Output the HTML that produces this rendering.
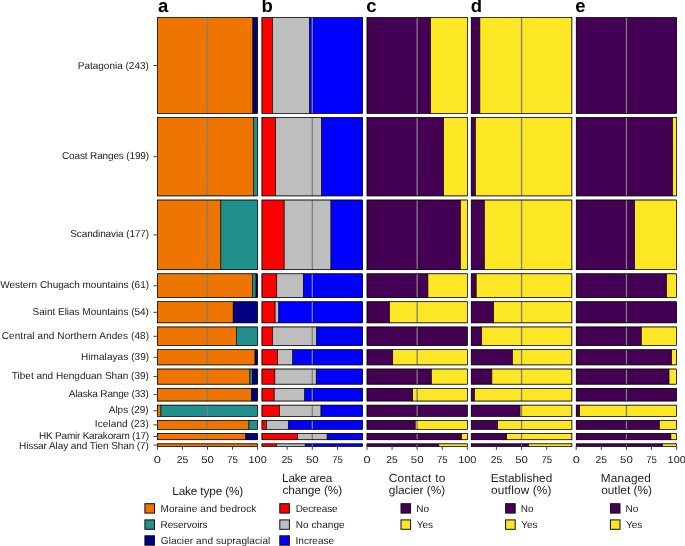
<!DOCTYPE html>
<html><head><meta charset="utf-8"><style>
html,body{margin:0;padding:0;background:#fff;width:685px;height:546px;overflow:hidden}
svg{display:block;will-change:transform}
text{font-family:"Liberation Sans",sans-serif;fill:#1c1c1c;text-rendering:geometricPrecision}
.lab{font-size:10px}
.tick{font-size:10px}
.leg{font-size:10px}
.ttl{font-size:11.8px}
.let{font-size:18.5px;font-weight:bold;fill:#000}
</style></head><body>
<svg width="685" height="546" viewBox="0 0 685 546">
<rect x="157.4" y="17.55" width="95.49" height="95.86" fill="#EE7600"/>
<rect x="252.89" y="17.55" width="4.71" height="95.86" fill="#000080"/>
<line x1="207.5" y1="17.55" x2="207.5" y2="113.41" stroke="#7f7f7f" stroke-width="1.3"/>
<rect x="157.4" y="17.55" width="95.49" height="95.86" fill="none" stroke="#000" stroke-width="0.5"/>
<rect x="252.89" y="17.55" width="4.71" height="95.86" fill="none" stroke="#000" stroke-width="0.5"/>
<rect x="157.4" y="17.55" width="100.2" height="95.86" fill="none" stroke="#000" stroke-width="0.55"/>
<rect x="261.95" y="17.55" width="10.57" height="95.86" fill="#FF0000"/>
<rect x="272.52" y="17.55" width="36.86" height="95.86" fill="#BEBEBE"/>
<rect x="309.38" y="17.55" width="53.27" height="95.86" fill="#0000FF"/>
<line x1="312.3" y1="17.55" x2="312.3" y2="113.41" stroke="#7f7f7f" stroke-width="1.3"/>
<rect x="261.95" y="17.55" width="10.57" height="95.86" fill="none" stroke="#000" stroke-width="0.5"/>
<rect x="272.52" y="17.55" width="36.86" height="95.86" fill="none" stroke="#000" stroke-width="0.5"/>
<rect x="309.38" y="17.55" width="53.27" height="95.86" fill="none" stroke="#000" stroke-width="0.5"/>
<rect x="261.95" y="17.55" width="100.7" height="95.86" fill="none" stroke="#000" stroke-width="0.55"/>
<rect x="367" y="17.55" width="63.59" height="95.86" fill="#440154"/>
<rect x="430.59" y="17.55" width="36.71" height="95.86" fill="#FDE725"/>
<line x1="417.15" y1="17.55" x2="417.15" y2="113.41" stroke="#7f7f7f" stroke-width="1.3"/>
<rect x="367" y="17.55" width="63.59" height="95.86" fill="none" stroke="#000" stroke-width="0.5"/>
<rect x="430.59" y="17.55" width="36.71" height="95.86" fill="none" stroke="#000" stroke-width="0.5"/>
<rect x="367" y="17.55" width="100.3" height="95.86" fill="none" stroke="#000" stroke-width="0.55"/>
<rect x="471.2" y="17.55" width="8.66" height="95.86" fill="#440154"/>
<rect x="479.86" y="17.55" width="92.04" height="95.86" fill="#FDE725"/>
<line x1="521.55" y1="17.55" x2="521.55" y2="113.41" stroke="#7f7f7f" stroke-width="1.3"/>
<rect x="471.2" y="17.55" width="8.66" height="95.86" fill="none" stroke="#000" stroke-width="0.5"/>
<rect x="479.86" y="17.55" width="92.04" height="95.86" fill="none" stroke="#000" stroke-width="0.5"/>
<rect x="471.2" y="17.55" width="100.7" height="95.86" fill="none" stroke="#000" stroke-width="0.55"/>
<rect x="576.2" y="17.55" width="100.5" height="95.86" fill="#440154"/>
<line x1="626.45" y1="17.55" x2="626.45" y2="113.41" stroke="#7f7f7f" stroke-width="1.3"/>
<rect x="576.2" y="17.55" width="100.5" height="95.86" fill="none" stroke="#000" stroke-width="0.5"/>
<rect x="576.2" y="17.55" width="100.5" height="95.86" fill="none" stroke="#000" stroke-width="0.55"/>
<line x1="153.4" y1="65.48" x2="157.4" y2="65.48" stroke="#444" stroke-width="1"/>
<text x="77.76" y="68.83" textLength="71.07" lengthAdjust="spacing" class="lab">Patagonia (243)</text>
<rect x="157.4" y="117.48" width="96.19" height="78.45" fill="#EE7600"/>
<rect x="253.59" y="117.48" width="4.01" height="78.45" fill="#21908C"/>
<line x1="207.5" y1="117.48" x2="207.5" y2="195.93" stroke="#7f7f7f" stroke-width="1.3"/>
<rect x="157.4" y="117.48" width="96.19" height="78.45" fill="none" stroke="#000" stroke-width="0.5"/>
<rect x="253.59" y="117.48" width="4.01" height="78.45" fill="none" stroke="#000" stroke-width="0.5"/>
<rect x="157.4" y="117.48" width="100.2" height="78.45" fill="none" stroke="#000" stroke-width="0.55"/>
<rect x="261.95" y="117.48" width="13.7" height="78.45" fill="#FF0000"/>
<rect x="275.65" y="117.48" width="45.92" height="78.45" fill="#BEBEBE"/>
<rect x="321.56" y="117.48" width="41.09" height="78.45" fill="#0000FF"/>
<line x1="312.3" y1="117.48" x2="312.3" y2="195.93" stroke="#7f7f7f" stroke-width="1.3"/>
<rect x="261.95" y="117.48" width="13.7" height="78.45" fill="none" stroke="#000" stroke-width="0.5"/>
<rect x="275.65" y="117.48" width="45.92" height="78.45" fill="none" stroke="#000" stroke-width="0.5"/>
<rect x="321.56" y="117.48" width="41.09" height="78.45" fill="none" stroke="#000" stroke-width="0.5"/>
<rect x="261.95" y="117.48" width="100.7" height="78.45" fill="none" stroke="#000" stroke-width="0.55"/>
<rect x="367" y="117.48" width="76.63" height="78.45" fill="#440154"/>
<rect x="443.63" y="117.48" width="23.67" height="78.45" fill="#FDE725"/>
<line x1="417.15" y1="117.48" x2="417.15" y2="195.93" stroke="#7f7f7f" stroke-width="1.3"/>
<rect x="367" y="117.48" width="76.63" height="78.45" fill="none" stroke="#000" stroke-width="0.5"/>
<rect x="443.63" y="117.48" width="23.67" height="78.45" fill="none" stroke="#000" stroke-width="0.5"/>
<rect x="367" y="117.48" width="100.3" height="78.45" fill="none" stroke="#000" stroke-width="0.55"/>
<rect x="471.2" y="117.48" width="4.23" height="78.45" fill="#440154"/>
<rect x="475.43" y="117.48" width="96.47" height="78.45" fill="#FDE725"/>
<line x1="521.55" y1="117.48" x2="521.55" y2="195.93" stroke="#7f7f7f" stroke-width="1.3"/>
<rect x="471.2" y="117.48" width="4.23" height="78.45" fill="none" stroke="#000" stroke-width="0.5"/>
<rect x="475.43" y="117.48" width="96.47" height="78.45" fill="none" stroke="#000" stroke-width="0.5"/>
<rect x="471.2" y="117.48" width="100.7" height="78.45" fill="none" stroke="#000" stroke-width="0.55"/>
<rect x="576.2" y="117.48" width="96.48" height="78.45" fill="#440154"/>
<rect x="672.68" y="117.48" width="4.02" height="78.45" fill="#FDE725"/>
<line x1="626.45" y1="117.48" x2="626.45" y2="195.93" stroke="#7f7f7f" stroke-width="1.3"/>
<rect x="576.2" y="117.48" width="96.48" height="78.45" fill="none" stroke="#000" stroke-width="0.5"/>
<rect x="672.68" y="117.48" width="4.02" height="78.45" fill="none" stroke="#000" stroke-width="0.5"/>
<rect x="576.2" y="117.48" width="100.5" height="78.45" fill="none" stroke="#000" stroke-width="0.55"/>
<line x1="153.4" y1="156.7" x2="157.4" y2="156.7" stroke="#444" stroke-width="1"/>
<text x="62.01" y="159.25" textLength="87.1" lengthAdjust="spacing" class="lab">Coast Ranges (199)</text>
<rect x="157.4" y="200" width="63.43" height="69.75" fill="#EE7600"/>
<rect x="220.83" y="200" width="36.77" height="69.75" fill="#21908C"/>
<line x1="207.5" y1="200" x2="207.5" y2="269.75" stroke="#7f7f7f" stroke-width="1.3"/>
<rect x="157.4" y="200" width="63.43" height="69.75" fill="none" stroke="#000" stroke-width="0.5"/>
<rect x="220.83" y="200" width="36.77" height="69.75" fill="none" stroke="#000" stroke-width="0.5"/>
<rect x="157.4" y="200" width="100.2" height="69.75" fill="none" stroke="#000" stroke-width="0.55"/>
<rect x="261.95" y="200" width="22.15" height="69.75" fill="#FF0000"/>
<rect x="284.1" y="200" width="46.83" height="69.75" fill="#BEBEBE"/>
<rect x="330.93" y="200" width="31.72" height="69.75" fill="#0000FF"/>
<line x1="312.3" y1="200" x2="312.3" y2="269.75" stroke="#7f7f7f" stroke-width="1.3"/>
<rect x="261.95" y="200" width="22.15" height="69.75" fill="none" stroke="#000" stroke-width="0.5"/>
<rect x="284.1" y="200" width="46.83" height="69.75" fill="none" stroke="#000" stroke-width="0.5"/>
<rect x="330.93" y="200" width="31.72" height="69.75" fill="none" stroke="#000" stroke-width="0.5"/>
<rect x="261.95" y="200" width="100.7" height="69.75" fill="none" stroke="#000" stroke-width="0.55"/>
<rect x="367" y="200" width="93.48" height="69.75" fill="#440154"/>
<rect x="460.48" y="200" width="6.82" height="69.75" fill="#FDE725"/>
<line x1="417.15" y1="200" x2="417.15" y2="269.75" stroke="#7f7f7f" stroke-width="1.3"/>
<rect x="367" y="200" width="93.48" height="69.75" fill="none" stroke="#000" stroke-width="0.5"/>
<rect x="460.48" y="200" width="6.82" height="69.75" fill="none" stroke="#000" stroke-width="0.5"/>
<rect x="367" y="200" width="100.3" height="69.75" fill="none" stroke="#000" stroke-width="0.55"/>
<rect x="471.2" y="200" width="13.19" height="69.75" fill="#440154"/>
<rect x="484.39" y="200" width="87.51" height="69.75" fill="#FDE725"/>
<line x1="521.55" y1="200" x2="521.55" y2="269.75" stroke="#7f7f7f" stroke-width="1.3"/>
<rect x="471.2" y="200" width="13.19" height="69.75" fill="none" stroke="#000" stroke-width="0.5"/>
<rect x="484.39" y="200" width="87.51" height="69.75" fill="none" stroke="#000" stroke-width="0.5"/>
<rect x="471.2" y="200" width="100.7" height="69.75" fill="none" stroke="#000" stroke-width="0.55"/>
<rect x="576.2" y="200" width="58.54" height="69.75" fill="#440154"/>
<rect x="634.74" y="200" width="41.96" height="69.75" fill="#FDE725"/>
<line x1="626.45" y1="200" x2="626.45" y2="269.75" stroke="#7f7f7f" stroke-width="1.3"/>
<rect x="576.2" y="200" width="58.54" height="69.75" fill="none" stroke="#000" stroke-width="0.5"/>
<rect x="634.74" y="200" width="41.96" height="69.75" fill="none" stroke="#000" stroke-width="0.5"/>
<rect x="576.2" y="200" width="100.5" height="69.75" fill="none" stroke="#000" stroke-width="0.55"/>
<line x1="153.4" y1="234.88" x2="157.4" y2="234.88" stroke="#444" stroke-width="1"/>
<text x="70.28" y="237.43" textLength="78.77" lengthAdjust="spacing" class="lab">Scandinavia (177)</text>
<rect x="157.4" y="273.82" width="95.29" height="23.88" fill="#EE7600"/>
<rect x="252.69" y="273.82" width="3.31" height="23.88" fill="#21908C"/>
<rect x="256" y="273.82" width="1.6" height="23.88" fill="#000080"/>
<line x1="207.5" y1="273.82" x2="207.5" y2="297.7" stroke="#7f7f7f" stroke-width="1.3"/>
<rect x="157.4" y="273.82" width="95.29" height="23.88" fill="none" stroke="#000" stroke-width="0.5"/>
<rect x="252.69" y="273.82" width="3.31" height="23.88" fill="none" stroke="#000" stroke-width="0.5"/>
<rect x="256" y="273.82" width="1.6" height="23.88" fill="none" stroke="#000" stroke-width="0.5"/>
<rect x="157.4" y="273.82" width="100.2" height="23.88" fill="none" stroke="#000" stroke-width="0.55"/>
<rect x="261.95" y="273.82" width="14.85" height="23.88" fill="#FF0000"/>
<rect x="276.8" y="273.82" width="26.43" height="23.88" fill="#BEBEBE"/>
<rect x="303.24" y="273.82" width="59.41" height="23.88" fill="#0000FF"/>
<line x1="312.3" y1="273.82" x2="312.3" y2="297.7" stroke="#7f7f7f" stroke-width="1.3"/>
<rect x="261.95" y="273.82" width="14.85" height="23.88" fill="none" stroke="#000" stroke-width="0.5"/>
<rect x="276.8" y="273.82" width="26.43" height="23.88" fill="none" stroke="#000" stroke-width="0.5"/>
<rect x="303.24" y="273.82" width="59.41" height="23.88" fill="none" stroke="#000" stroke-width="0.5"/>
<rect x="261.95" y="273.82" width="100.7" height="23.88" fill="none" stroke="#000" stroke-width="0.55"/>
<rect x="367" y="273.82" width="60.88" height="23.88" fill="#440154"/>
<rect x="427.88" y="273.82" width="39.42" height="23.88" fill="#FDE725"/>
<line x1="417.15" y1="273.82" x2="417.15" y2="297.7" stroke="#7f7f7f" stroke-width="1.3"/>
<rect x="367" y="273.82" width="60.88" height="23.88" fill="none" stroke="#000" stroke-width="0.5"/>
<rect x="427.88" y="273.82" width="39.42" height="23.88" fill="none" stroke="#000" stroke-width="0.5"/>
<rect x="367" y="273.82" width="100.3" height="23.88" fill="none" stroke="#000" stroke-width="0.55"/>
<rect x="471.2" y="273.82" width="4.93" height="23.88" fill="#440154"/>
<rect x="476.13" y="273.82" width="95.77" height="23.88" fill="#FDE725"/>
<line x1="521.55" y1="273.82" x2="521.55" y2="297.7" stroke="#7f7f7f" stroke-width="1.3"/>
<rect x="471.2" y="273.82" width="4.93" height="23.88" fill="none" stroke="#000" stroke-width="0.5"/>
<rect x="476.13" y="273.82" width="95.77" height="23.88" fill="none" stroke="#000" stroke-width="0.5"/>
<rect x="471.2" y="273.82" width="100.7" height="23.88" fill="none" stroke="#000" stroke-width="0.55"/>
<rect x="576.2" y="273.82" width="90.45" height="23.88" fill="#440154"/>
<rect x="666.65" y="273.82" width="10.05" height="23.88" fill="#FDE725"/>
<line x1="626.45" y1="273.82" x2="626.45" y2="297.7" stroke="#7f7f7f" stroke-width="1.3"/>
<rect x="576.2" y="273.82" width="90.45" height="23.88" fill="none" stroke="#000" stroke-width="0.5"/>
<rect x="666.65" y="273.82" width="10.05" height="23.88" fill="none" stroke="#000" stroke-width="0.5"/>
<rect x="576.2" y="273.82" width="100.5" height="23.88" fill="none" stroke="#000" stroke-width="0.55"/>
<line x1="153.4" y1="285.76" x2="157.4" y2="285.76" stroke="#444" stroke-width="1"/>
<text x="0.2" y="288.16" textLength="148.84" lengthAdjust="spacing" class="lab">Western Chugach mountains (61)</text>
<rect x="157.4" y="301.77" width="75.75" height="21.11" fill="#EE7600"/>
<rect x="233.15" y="301.77" width="24.45" height="21.11" fill="#000080"/>
<line x1="207.5" y1="301.77" x2="207.5" y2="322.88" stroke="#7f7f7f" stroke-width="1.3"/>
<rect x="157.4" y="301.77" width="75.75" height="21.11" fill="none" stroke="#000" stroke-width="0.5"/>
<rect x="233.15" y="301.77" width="24.45" height="21.11" fill="none" stroke="#000" stroke-width="0.5"/>
<rect x="157.4" y="301.77" width="100.2" height="21.11" fill="none" stroke="#000" stroke-width="0.55"/>
<rect x="261.95" y="301.77" width="13.09" height="21.11" fill="#FF0000"/>
<rect x="275.04" y="301.77" width="3.73" height="21.11" fill="#BEBEBE"/>
<rect x="278.77" y="301.77" width="83.88" height="21.11" fill="#0000FF"/>
<line x1="312.3" y1="301.77" x2="312.3" y2="322.88" stroke="#7f7f7f" stroke-width="1.3"/>
<rect x="261.95" y="301.77" width="13.09" height="21.11" fill="none" stroke="#000" stroke-width="0.5"/>
<rect x="275.04" y="301.77" width="3.73" height="21.11" fill="none" stroke="#000" stroke-width="0.5"/>
<rect x="278.77" y="301.77" width="83.88" height="21.11" fill="none" stroke="#000" stroke-width="0.5"/>
<rect x="261.95" y="301.77" width="100.7" height="21.11" fill="none" stroke="#000" stroke-width="0.55"/>
<rect x="367" y="301.77" width="22.37" height="21.11" fill="#440154"/>
<rect x="389.37" y="301.77" width="77.93" height="21.11" fill="#FDE725"/>
<line x1="417.15" y1="301.77" x2="417.15" y2="322.88" stroke="#7f7f7f" stroke-width="1.3"/>
<rect x="367" y="301.77" width="22.37" height="21.11" fill="none" stroke="#000" stroke-width="0.5"/>
<rect x="389.37" y="301.77" width="77.93" height="21.11" fill="none" stroke="#000" stroke-width="0.5"/>
<rect x="367" y="301.77" width="100.3" height="21.11" fill="none" stroke="#000" stroke-width="0.55"/>
<rect x="471.2" y="301.77" width="22.46" height="21.11" fill="#440154"/>
<rect x="493.66" y="301.77" width="78.24" height="21.11" fill="#FDE725"/>
<line x1="521.55" y1="301.77" x2="521.55" y2="322.88" stroke="#7f7f7f" stroke-width="1.3"/>
<rect x="471.2" y="301.77" width="22.46" height="21.11" fill="none" stroke="#000" stroke-width="0.5"/>
<rect x="493.66" y="301.77" width="78.24" height="21.11" fill="none" stroke="#000" stroke-width="0.5"/>
<rect x="471.2" y="301.77" width="100.7" height="21.11" fill="none" stroke="#000" stroke-width="0.55"/>
<rect x="576.2" y="301.77" width="100.5" height="21.11" fill="#440154"/>
<line x1="626.45" y1="301.77" x2="626.45" y2="322.88" stroke="#7f7f7f" stroke-width="1.3"/>
<rect x="576.2" y="301.77" width="100.5" height="21.11" fill="none" stroke="#000" stroke-width="0.5"/>
<rect x="576.2" y="301.77" width="100.5" height="21.11" fill="none" stroke="#000" stroke-width="0.55"/>
<line x1="153.4" y1="312.32" x2="157.4" y2="312.32" stroke="#444" stroke-width="1"/>
<text x="32.52" y="314.87" textLength="116.36" lengthAdjust="spacing" class="lab">Saint Elias Mountains (54)</text>
<rect x="157.4" y="326.95" width="78.96" height="18.73" fill="#EE7600"/>
<rect x="236.36" y="326.95" width="21.24" height="18.73" fill="#21908C"/>
<line x1="207.5" y1="326.95" x2="207.5" y2="345.68" stroke="#7f7f7f" stroke-width="1.3"/>
<rect x="157.4" y="326.95" width="78.96" height="18.73" fill="none" stroke="#000" stroke-width="0.5"/>
<rect x="236.36" y="326.95" width="21.24" height="18.73" fill="none" stroke="#000" stroke-width="0.5"/>
<rect x="157.4" y="326.95" width="100.2" height="18.73" fill="none" stroke="#000" stroke-width="0.55"/>
<rect x="261.95" y="326.95" width="10.57" height="18.73" fill="#FF0000"/>
<rect x="272.52" y="326.95" width="43.91" height="18.73" fill="#BEBEBE"/>
<rect x="316.43" y="326.95" width="46.22" height="18.73" fill="#0000FF"/>
<line x1="312.3" y1="326.95" x2="312.3" y2="345.68" stroke="#7f7f7f" stroke-width="1.3"/>
<rect x="261.95" y="326.95" width="10.57" height="18.73" fill="none" stroke="#000" stroke-width="0.5"/>
<rect x="272.52" y="326.95" width="43.91" height="18.73" fill="none" stroke="#000" stroke-width="0.5"/>
<rect x="316.43" y="326.95" width="46.22" height="18.73" fill="none" stroke="#000" stroke-width="0.5"/>
<rect x="261.95" y="326.95" width="100.7" height="18.73" fill="none" stroke="#000" stroke-width="0.55"/>
<rect x="367" y="326.95" width="100.3" height="18.73" fill="#440154"/>
<line x1="417.15" y1="326.95" x2="417.15" y2="345.68" stroke="#7f7f7f" stroke-width="1.3"/>
<rect x="367" y="326.95" width="100.3" height="18.73" fill="none" stroke="#000" stroke-width="0.5"/>
<rect x="367" y="326.95" width="100.3" height="18.73" fill="none" stroke="#000" stroke-width="0.55"/>
<rect x="471.2" y="326.95" width="10.47" height="18.73" fill="#440154"/>
<rect x="481.67" y="326.95" width="90.23" height="18.73" fill="#FDE725"/>
<line x1="521.55" y1="326.95" x2="521.55" y2="345.68" stroke="#7f7f7f" stroke-width="1.3"/>
<rect x="471.2" y="326.95" width="10.47" height="18.73" fill="none" stroke="#000" stroke-width="0.5"/>
<rect x="481.67" y="326.95" width="90.23" height="18.73" fill="none" stroke="#000" stroke-width="0.5"/>
<rect x="471.2" y="326.95" width="100.7" height="18.73" fill="none" stroke="#000" stroke-width="0.55"/>
<rect x="576.2" y="326.95" width="65.02" height="18.73" fill="#440154"/>
<rect x="641.22" y="326.95" width="35.48" height="18.73" fill="#FDE725"/>
<line x1="626.45" y1="326.95" x2="626.45" y2="345.68" stroke="#7f7f7f" stroke-width="1.3"/>
<rect x="576.2" y="326.95" width="65.02" height="18.73" fill="none" stroke="#000" stroke-width="0.5"/>
<rect x="641.22" y="326.95" width="35.48" height="18.73" fill="none" stroke="#000" stroke-width="0.5"/>
<rect x="576.2" y="326.95" width="100.5" height="18.73" fill="none" stroke="#000" stroke-width="0.55"/>
<line x1="153.4" y1="336.31" x2="157.4" y2="336.31" stroke="#444" stroke-width="1"/>
<text x="1.72" y="338.86" textLength="147.31" lengthAdjust="spacing" class="lab">Central and Northern Andes (48)</text>
<rect x="157.4" y="349.75" width="97.59" height="15.17" fill="#EE7600"/>
<rect x="254.99" y="349.75" width="2.61" height="15.17" fill="#000080"/>
<line x1="207.5" y1="349.75" x2="207.5" y2="364.93" stroke="#7f7f7f" stroke-width="1.3"/>
<rect x="157.4" y="349.75" width="97.59" height="15.17" fill="none" stroke="#000" stroke-width="0.5"/>
<rect x="254.99" y="349.75" width="2.61" height="15.17" fill="none" stroke="#000" stroke-width="0.5"/>
<rect x="157.4" y="349.75" width="100.2" height="15.17" fill="none" stroke="#000" stroke-width="0.55"/>
<rect x="261.95" y="349.75" width="15.61" height="15.17" fill="#FF0000"/>
<rect x="277.56" y="349.75" width="15.21" height="15.17" fill="#BEBEBE"/>
<rect x="292.76" y="349.75" width="69.89" height="15.17" fill="#0000FF"/>
<line x1="312.3" y1="349.75" x2="312.3" y2="364.93" stroke="#7f7f7f" stroke-width="1.3"/>
<rect x="261.95" y="349.75" width="15.61" height="15.17" fill="none" stroke="#000" stroke-width="0.5"/>
<rect x="277.56" y="349.75" width="15.21" height="15.17" fill="none" stroke="#000" stroke-width="0.5"/>
<rect x="292.76" y="349.75" width="69.89" height="15.17" fill="none" stroke="#000" stroke-width="0.5"/>
<rect x="261.95" y="349.75" width="100.7" height="15.17" fill="none" stroke="#000" stroke-width="0.55"/>
<rect x="367" y="349.75" width="25.78" height="15.17" fill="#440154"/>
<rect x="392.78" y="349.75" width="74.52" height="15.17" fill="#FDE725"/>
<line x1="417.15" y1="349.75" x2="417.15" y2="364.93" stroke="#7f7f7f" stroke-width="1.3"/>
<rect x="367" y="349.75" width="25.78" height="15.17" fill="none" stroke="#000" stroke-width="0.5"/>
<rect x="392.78" y="349.75" width="74.52" height="15.17" fill="none" stroke="#000" stroke-width="0.5"/>
<rect x="367" y="349.75" width="100.3" height="15.17" fill="none" stroke="#000" stroke-width="0.55"/>
<rect x="471.2" y="349.75" width="41.29" height="15.17" fill="#440154"/>
<rect x="512.49" y="349.75" width="59.41" height="15.17" fill="#FDE725"/>
<line x1="521.55" y1="349.75" x2="521.55" y2="364.93" stroke="#7f7f7f" stroke-width="1.3"/>
<rect x="471.2" y="349.75" width="41.29" height="15.17" fill="none" stroke="#000" stroke-width="0.5"/>
<rect x="512.49" y="349.75" width="59.41" height="15.17" fill="none" stroke="#000" stroke-width="0.5"/>
<rect x="471.2" y="349.75" width="100.7" height="15.17" fill="none" stroke="#000" stroke-width="0.55"/>
<rect x="576.2" y="349.75" width="95.37" height="15.17" fill="#440154"/>
<rect x="671.57" y="349.75" width="5.13" height="15.17" fill="#FDE725"/>
<line x1="626.45" y1="349.75" x2="626.45" y2="364.93" stroke="#7f7f7f" stroke-width="1.3"/>
<rect x="576.2" y="349.75" width="95.37" height="15.17" fill="none" stroke="#000" stroke-width="0.5"/>
<rect x="671.57" y="349.75" width="5.13" height="15.17" fill="none" stroke="#000" stroke-width="0.5"/>
<rect x="576.2" y="349.75" width="100.5" height="15.17" fill="none" stroke="#000" stroke-width="0.55"/>
<line x1="153.4" y1="357.34" x2="157.4" y2="357.34" stroke="#444" stroke-width="1"/>
<text x="80.92" y="359.84" textLength="68.29" lengthAdjust="spacing" class="lab">Himalayas (39)</text>
<rect x="157.4" y="369" width="92.48" height="15.17" fill="#EE7600"/>
<rect x="249.88" y="369" width="2.4" height="15.17" fill="#21908C"/>
<rect x="252.29" y="369" width="5.31" height="15.17" fill="#000080"/>
<line x1="207.5" y1="369" x2="207.5" y2="384.17" stroke="#7f7f7f" stroke-width="1.3"/>
<rect x="157.4" y="369" width="92.48" height="15.17" fill="none" stroke="#000" stroke-width="0.5"/>
<rect x="249.88" y="369" width="2.4" height="15.17" fill="none" stroke="#000" stroke-width="0.5"/>
<rect x="252.29" y="369" width="5.31" height="15.17" fill="none" stroke="#000" stroke-width="0.5"/>
<rect x="157.4" y="369" width="100.2" height="15.17" fill="none" stroke="#000" stroke-width="0.55"/>
<rect x="261.95" y="369" width="12.89" height="15.17" fill="#FF0000"/>
<rect x="274.84" y="369" width="41.34" height="15.17" fill="#BEBEBE"/>
<rect x="316.18" y="369" width="46.47" height="15.17" fill="#0000FF"/>
<line x1="312.3" y1="369" x2="312.3" y2="384.17" stroke="#7f7f7f" stroke-width="1.3"/>
<rect x="261.95" y="369" width="12.89" height="15.17" fill="none" stroke="#000" stroke-width="0.5"/>
<rect x="274.84" y="369" width="41.34" height="15.17" fill="none" stroke="#000" stroke-width="0.5"/>
<rect x="316.18" y="369" width="46.47" height="15.17" fill="none" stroke="#000" stroke-width="0.5"/>
<rect x="261.95" y="369" width="100.7" height="15.17" fill="none" stroke="#000" stroke-width="0.55"/>
<rect x="367" y="369" width="64.29" height="15.17" fill="#440154"/>
<rect x="431.29" y="369" width="36.01" height="15.17" fill="#FDE725"/>
<line x1="417.15" y1="369" x2="417.15" y2="384.17" stroke="#7f7f7f" stroke-width="1.3"/>
<rect x="367" y="369" width="64.29" height="15.17" fill="none" stroke="#000" stroke-width="0.5"/>
<rect x="431.29" y="369" width="36.01" height="15.17" fill="none" stroke="#000" stroke-width="0.5"/>
<rect x="367" y="369" width="100.3" height="15.17" fill="none" stroke="#000" stroke-width="0.55"/>
<rect x="471.2" y="369" width="20.64" height="15.17" fill="#440154"/>
<rect x="491.84" y="369" width="80.06" height="15.17" fill="#FDE725"/>
<line x1="521.55" y1="369" x2="521.55" y2="384.17" stroke="#7f7f7f" stroke-width="1.3"/>
<rect x="471.2" y="369" width="20.64" height="15.17" fill="none" stroke="#000" stroke-width="0.5"/>
<rect x="491.84" y="369" width="80.06" height="15.17" fill="none" stroke="#000" stroke-width="0.5"/>
<rect x="471.2" y="369" width="100.7" height="15.17" fill="none" stroke="#000" stroke-width="0.55"/>
<rect x="576.2" y="369" width="92.76" height="15.17" fill="#440154"/>
<rect x="668.96" y="369" width="7.74" height="15.17" fill="#FDE725"/>
<line x1="626.45" y1="369" x2="626.45" y2="384.17" stroke="#7f7f7f" stroke-width="1.3"/>
<rect x="576.2" y="369" width="92.76" height="15.17" fill="none" stroke="#000" stroke-width="0.5"/>
<rect x="668.96" y="369" width="7.74" height="15.17" fill="none" stroke="#000" stroke-width="0.5"/>
<rect x="576.2" y="369" width="100.5" height="15.17" fill="none" stroke="#000" stroke-width="0.55"/>
<line x1="153.4" y1="376.58" x2="157.4" y2="376.58" stroke="#444" stroke-width="1"/>
<text x="11.77" y="379.18" textLength="137.15" lengthAdjust="spacing" class="lab">Tibet and Hengduan Shan (39)</text>
<rect x="157.4" y="388.24" width="93.99" height="12.8" fill="#EE7600"/>
<rect x="251.39" y="388.24" width="6.21" height="12.8" fill="#000080"/>
<line x1="207.5" y1="388.24" x2="207.5" y2="401.04" stroke="#7f7f7f" stroke-width="1.3"/>
<rect x="157.4" y="388.24" width="93.99" height="12.8" fill="none" stroke="#000" stroke-width="0.5"/>
<rect x="251.39" y="388.24" width="6.21" height="12.8" fill="none" stroke="#000" stroke-width="0.5"/>
<rect x="157.4" y="388.24" width="100.2" height="12.8" fill="none" stroke="#000" stroke-width="0.55"/>
<rect x="261.95" y="388.24" width="12.18" height="12.8" fill="#FF0000"/>
<rect x="274.13" y="388.24" width="30.51" height="12.8" fill="#BEBEBE"/>
<rect x="304.65" y="388.24" width="58" height="12.8" fill="#0000FF"/>
<line x1="312.3" y1="388.24" x2="312.3" y2="401.04" stroke="#7f7f7f" stroke-width="1.3"/>
<rect x="261.95" y="388.24" width="12.18" height="12.8" fill="none" stroke="#000" stroke-width="0.5"/>
<rect x="274.13" y="388.24" width="30.51" height="12.8" fill="none" stroke="#000" stroke-width="0.5"/>
<rect x="304.65" y="388.24" width="58" height="12.8" fill="none" stroke="#000" stroke-width="0.5"/>
<rect x="261.95" y="388.24" width="100.7" height="12.8" fill="none" stroke="#000" stroke-width="0.55"/>
<rect x="367" y="388.24" width="45.74" height="12.8" fill="#440154"/>
<rect x="412.74" y="388.24" width="54.56" height="12.8" fill="#FDE725"/>
<line x1="417.15" y1="388.24" x2="417.15" y2="401.04" stroke="#7f7f7f" stroke-width="1.3"/>
<rect x="367" y="388.24" width="45.74" height="12.8" fill="none" stroke="#000" stroke-width="0.5"/>
<rect x="412.74" y="388.24" width="54.56" height="12.8" fill="none" stroke="#000" stroke-width="0.5"/>
<rect x="367" y="388.24" width="100.3" height="12.8" fill="none" stroke="#000" stroke-width="0.55"/>
<rect x="471.2" y="388.24" width="3.22" height="12.8" fill="#440154"/>
<rect x="474.42" y="388.24" width="97.48" height="12.8" fill="#FDE725"/>
<line x1="521.55" y1="388.24" x2="521.55" y2="401.04" stroke="#7f7f7f" stroke-width="1.3"/>
<rect x="471.2" y="388.24" width="3.22" height="12.8" fill="none" stroke="#000" stroke-width="0.5"/>
<rect x="474.42" y="388.24" width="97.48" height="12.8" fill="none" stroke="#000" stroke-width="0.5"/>
<rect x="471.2" y="388.24" width="100.7" height="12.8" fill="none" stroke="#000" stroke-width="0.55"/>
<rect x="576.2" y="388.24" width="100.5" height="12.8" fill="#440154"/>
<line x1="626.45" y1="388.24" x2="626.45" y2="401.04" stroke="#7f7f7f" stroke-width="1.3"/>
<rect x="576.2" y="388.24" width="100.5" height="12.8" fill="none" stroke="#000" stroke-width="0.5"/>
<rect x="576.2" y="388.24" width="100.5" height="12.8" fill="none" stroke="#000" stroke-width="0.55"/>
<line x1="153.4" y1="394.64" x2="157.4" y2="394.64" stroke="#444" stroke-width="1"/>
<text x="68.78" y="397.19" textLength="80.01" lengthAdjust="spacing" class="lab">Alaska Range (33)</text>
<rect x="157.4" y="405.11" width="3.46" height="11.22" fill="#EE7600"/>
<rect x="160.86" y="405.11" width="96.74" height="11.22" fill="#21908C"/>
<line x1="207.5" y1="405.11" x2="207.5" y2="416.33" stroke="#7f7f7f" stroke-width="1.3"/>
<rect x="157.4" y="405.11" width="3.46" height="11.22" fill="none" stroke="#000" stroke-width="0.5"/>
<rect x="160.86" y="405.11" width="96.74" height="11.22" fill="none" stroke="#000" stroke-width="0.5"/>
<rect x="157.4" y="405.11" width="100.2" height="11.22" fill="none" stroke="#000" stroke-width="0.55"/>
<rect x="261.95" y="405.11" width="17.42" height="11.22" fill="#FF0000"/>
<rect x="279.37" y="405.11" width="41.59" height="11.22" fill="#BEBEBE"/>
<rect x="320.96" y="405.11" width="41.69" height="11.22" fill="#0000FF"/>
<line x1="312.3" y1="405.11" x2="312.3" y2="416.33" stroke="#7f7f7f" stroke-width="1.3"/>
<rect x="261.95" y="405.11" width="17.42" height="11.22" fill="none" stroke="#000" stroke-width="0.5"/>
<rect x="279.37" y="405.11" width="41.59" height="11.22" fill="none" stroke="#000" stroke-width="0.5"/>
<rect x="320.96" y="405.11" width="41.69" height="11.22" fill="none" stroke="#000" stroke-width="0.5"/>
<rect x="261.95" y="405.11" width="100.7" height="11.22" fill="none" stroke="#000" stroke-width="0.55"/>
<rect x="367" y="405.11" width="100.3" height="11.22" fill="#440154"/>
<line x1="417.15" y1="405.11" x2="417.15" y2="416.33" stroke="#7f7f7f" stroke-width="1.3"/>
<rect x="367" y="405.11" width="100.3" height="11.22" fill="none" stroke="#000" stroke-width="0.5"/>
<rect x="367" y="405.11" width="100.3" height="11.22" fill="none" stroke="#000" stroke-width="0.55"/>
<rect x="471.2" y="405.11" width="48.74" height="11.22" fill="#440154"/>
<rect x="519.94" y="405.11" width="51.96" height="11.22" fill="#FDE725"/>
<line x1="521.55" y1="405.11" x2="521.55" y2="416.33" stroke="#7f7f7f" stroke-width="1.3"/>
<rect x="471.2" y="405.11" width="48.74" height="11.22" fill="none" stroke="#000" stroke-width="0.5"/>
<rect x="519.94" y="405.11" width="51.96" height="11.22" fill="none" stroke="#000" stroke-width="0.5"/>
<rect x="471.2" y="405.11" width="100.7" height="11.22" fill="none" stroke="#000" stroke-width="0.55"/>
<rect x="576.2" y="405.11" width="3.52" height="11.22" fill="#440154"/>
<rect x="579.72" y="405.11" width="96.98" height="11.22" fill="#FDE725"/>
<line x1="626.45" y1="405.11" x2="626.45" y2="416.33" stroke="#7f7f7f" stroke-width="1.3"/>
<rect x="576.2" y="405.11" width="3.52" height="11.22" fill="none" stroke="#000" stroke-width="0.5"/>
<rect x="579.72" y="405.11" width="96.98" height="11.22" fill="none" stroke="#000" stroke-width="0.5"/>
<rect x="576.2" y="405.11" width="100.5" height="11.22" fill="none" stroke="#000" stroke-width="0.55"/>
<line x1="153.4" y1="410.72" x2="157.4" y2="410.72" stroke="#444" stroke-width="1"/>
<text x="108.75" y="413.02" textLength="39.92" lengthAdjust="spacing" class="lab">Alps (29)</text>
<rect x="157.4" y="420.4" width="91.48" height="8.85" fill="#EE7600"/>
<rect x="248.88" y="420.4" width="8.72" height="8.85" fill="#21908C"/>
<line x1="207.5" y1="420.4" x2="207.5" y2="429.25" stroke="#7f7f7f" stroke-width="1.3"/>
<rect x="157.4" y="420.4" width="91.48" height="8.85" fill="none" stroke="#000" stroke-width="0.5"/>
<rect x="248.88" y="420.4" width="8.72" height="8.85" fill="none" stroke="#000" stroke-width="0.5"/>
<rect x="157.4" y="420.4" width="100.2" height="8.85" fill="none" stroke="#000" stroke-width="0.55"/>
<rect x="261.95" y="420.4" width="4.33" height="8.85" fill="#FF0000"/>
<rect x="266.28" y="420.4" width="21.95" height="8.85" fill="#BEBEBE"/>
<rect x="288.23" y="420.4" width="74.42" height="8.85" fill="#0000FF"/>
<line x1="312.3" y1="420.4" x2="312.3" y2="429.25" stroke="#7f7f7f" stroke-width="1.3"/>
<rect x="261.95" y="420.4" width="4.33" height="8.85" fill="none" stroke="#000" stroke-width="0.5"/>
<rect x="266.28" y="420.4" width="21.95" height="8.85" fill="none" stroke="#000" stroke-width="0.5"/>
<rect x="288.23" y="420.4" width="74.42" height="8.85" fill="none" stroke="#000" stroke-width="0.5"/>
<rect x="261.95" y="420.4" width="100.7" height="8.85" fill="none" stroke="#000" stroke-width="0.55"/>
<rect x="367" y="420.4" width="48.14" height="8.85" fill="#440154"/>
<rect x="415.14" y="420.4" width="52.16" height="8.85" fill="#FDE725"/>
<line x1="417.15" y1="420.4" x2="417.15" y2="429.25" stroke="#7f7f7f" stroke-width="1.3"/>
<rect x="367" y="420.4" width="48.14" height="8.85" fill="none" stroke="#000" stroke-width="0.5"/>
<rect x="415.14" y="420.4" width="52.16" height="8.85" fill="none" stroke="#000" stroke-width="0.5"/>
<rect x="367" y="420.4" width="100.3" height="8.85" fill="none" stroke="#000" stroke-width="0.55"/>
<rect x="471.2" y="420.4" width="26.28" height="8.85" fill="#440154"/>
<rect x="497.48" y="420.4" width="74.42" height="8.85" fill="#FDE725"/>
<line x1="521.55" y1="420.4" x2="521.55" y2="429.25" stroke="#7f7f7f" stroke-width="1.3"/>
<rect x="471.2" y="420.4" width="26.28" height="8.85" fill="none" stroke="#000" stroke-width="0.5"/>
<rect x="497.48" y="420.4" width="74.42" height="8.85" fill="none" stroke="#000" stroke-width="0.5"/>
<rect x="471.2" y="420.4" width="100.7" height="8.85" fill="none" stroke="#000" stroke-width="0.55"/>
<rect x="576.2" y="420.4" width="83.01" height="8.85" fill="#440154"/>
<rect x="659.21" y="420.4" width="17.49" height="8.85" fill="#FDE725"/>
<line x1="626.45" y1="420.4" x2="626.45" y2="429.25" stroke="#7f7f7f" stroke-width="1.3"/>
<rect x="576.2" y="420.4" width="83.01" height="8.85" fill="none" stroke="#000" stroke-width="0.5"/>
<rect x="659.21" y="420.4" width="17.49" height="8.85" fill="none" stroke="#000" stroke-width="0.5"/>
<rect x="576.2" y="420.4" width="100.5" height="8.85" fill="none" stroke="#000" stroke-width="0.55"/>
<line x1="153.4" y1="424.82" x2="157.4" y2="424.82" stroke="#444" stroke-width="1"/>
<text x="94.79" y="427.27" textLength="53.97" lengthAdjust="spacing" class="lab">Iceland (23)</text>
<rect x="157.4" y="433.32" width="88.38" height="6.47" fill="#EE7600"/>
<rect x="245.78" y="433.32" width="11.82" height="6.47" fill="#000080"/>
<line x1="207.5" y1="433.32" x2="207.5" y2="439.79" stroke="#7f7f7f" stroke-width="1.3"/>
<rect x="157.4" y="433.32" width="88.38" height="6.47" fill="none" stroke="#000" stroke-width="0.5"/>
<rect x="245.78" y="433.32" width="11.82" height="6.47" fill="none" stroke="#000" stroke-width="0.5"/>
<rect x="157.4" y="433.32" width="100.2" height="6.47" fill="none" stroke="#000" stroke-width="0.55"/>
<rect x="261.95" y="433.32" width="35.55" height="6.47" fill="#FF0000"/>
<rect x="297.5" y="433.32" width="29.61" height="6.47" fill="#BEBEBE"/>
<rect x="327.1" y="433.32" width="35.55" height="6.47" fill="#0000FF"/>
<line x1="312.3" y1="433.32" x2="312.3" y2="439.79" stroke="#7f7f7f" stroke-width="1.3"/>
<rect x="261.95" y="433.32" width="35.55" height="6.47" fill="none" stroke="#000" stroke-width="0.5"/>
<rect x="297.5" y="433.32" width="29.61" height="6.47" fill="none" stroke="#000" stroke-width="0.5"/>
<rect x="327.1" y="433.32" width="35.55" height="6.47" fill="none" stroke="#000" stroke-width="0.5"/>
<rect x="261.95" y="433.32" width="100.7" height="6.47" fill="none" stroke="#000" stroke-width="0.55"/>
<rect x="367" y="433.32" width="94.48" height="6.47" fill="#440154"/>
<rect x="461.48" y="433.32" width="5.82" height="6.47" fill="#FDE725"/>
<line x1="417.15" y1="433.32" x2="417.15" y2="439.79" stroke="#7f7f7f" stroke-width="1.3"/>
<rect x="367" y="433.32" width="94.48" height="6.47" fill="none" stroke="#000" stroke-width="0.5"/>
<rect x="461.48" y="433.32" width="5.82" height="6.47" fill="none" stroke="#000" stroke-width="0.5"/>
<rect x="367" y="433.32" width="100.3" height="6.47" fill="none" stroke="#000" stroke-width="0.55"/>
<rect x="471.2" y="433.32" width="35.55" height="6.47" fill="#440154"/>
<rect x="506.75" y="433.32" width="65.15" height="6.47" fill="#FDE725"/>
<line x1="521.55" y1="433.32" x2="521.55" y2="439.79" stroke="#7f7f7f" stroke-width="1.3"/>
<rect x="471.2" y="433.32" width="35.55" height="6.47" fill="none" stroke="#000" stroke-width="0.5"/>
<rect x="506.75" y="433.32" width="65.15" height="6.47" fill="none" stroke="#000" stroke-width="0.5"/>
<rect x="471.2" y="433.32" width="100.7" height="6.47" fill="none" stroke="#000" stroke-width="0.55"/>
<rect x="576.2" y="433.32" width="94.67" height="6.47" fill="#440154"/>
<rect x="670.87" y="433.32" width="5.83" height="6.47" fill="#FDE725"/>
<line x1="626.45" y1="433.32" x2="626.45" y2="439.79" stroke="#7f7f7f" stroke-width="1.3"/>
<rect x="576.2" y="433.32" width="94.67" height="6.47" fill="none" stroke="#000" stroke-width="0.5"/>
<rect x="670.87" y="433.32" width="5.83" height="6.47" fill="none" stroke="#000" stroke-width="0.5"/>
<rect x="576.2" y="433.32" width="100.5" height="6.47" fill="none" stroke="#000" stroke-width="0.55"/>
<line x1="153.4" y1="436.55" x2="157.4" y2="436.55" stroke="#444" stroke-width="1"/>
<text x="39.12" y="439.1" textLength="110.05" lengthAdjust="spacing" class="lab">HK Pamir Karakoram (17)</text>
<rect x="157.4" y="443.86" width="100.2" height="2.52" fill="#EE7600"/>
<line x1="207.5" y1="443.86" x2="207.5" y2="446.38" stroke="#7f7f7f" stroke-width="1.3"/>
<rect x="157.4" y="443.86" width="100.2" height="2.52" fill="none" stroke="#000" stroke-width="0.5"/>
<rect x="157.4" y="443.86" width="100.2" height="2.52" fill="none" stroke="#000" stroke-width="0.55"/>
<rect x="261.95" y="443.86" width="14.4" height="2.52" fill="#FF0000"/>
<rect x="276.35" y="443.86" width="28.8" height="2.52" fill="#BEBEBE"/>
<rect x="305.15" y="443.86" width="57.5" height="2.52" fill="#0000FF"/>
<line x1="312.3" y1="443.86" x2="312.3" y2="446.38" stroke="#7f7f7f" stroke-width="1.3"/>
<rect x="261.95" y="443.86" width="14.4" height="2.52" fill="none" stroke="#000" stroke-width="0.5"/>
<rect x="276.35" y="443.86" width="28.8" height="2.52" fill="none" stroke="#000" stroke-width="0.5"/>
<rect x="305.15" y="443.86" width="57.5" height="2.52" fill="none" stroke="#000" stroke-width="0.5"/>
<rect x="261.95" y="443.86" width="100.7" height="2.52" fill="none" stroke="#000" stroke-width="0.55"/>
<rect x="367" y="443.86" width="71.81" height="2.52" fill="#440154"/>
<rect x="438.81" y="443.86" width="28.49" height="2.52" fill="#FDE725"/>
<line x1="417.15" y1="443.86" x2="417.15" y2="446.38" stroke="#7f7f7f" stroke-width="1.3"/>
<rect x="367" y="443.86" width="71.81" height="2.52" fill="none" stroke="#000" stroke-width="0.5"/>
<rect x="438.81" y="443.86" width="28.49" height="2.52" fill="none" stroke="#000" stroke-width="0.5"/>
<rect x="367" y="443.86" width="100.3" height="2.52" fill="none" stroke="#000" stroke-width="0.55"/>
<rect x="471.2" y="443.86" width="57.4" height="2.52" fill="#440154"/>
<rect x="528.6" y="443.86" width="43.3" height="2.52" fill="#FDE725"/>
<line x1="521.55" y1="443.86" x2="521.55" y2="446.38" stroke="#7f7f7f" stroke-width="1.3"/>
<rect x="471.2" y="443.86" width="57.4" height="2.52" fill="none" stroke="#000" stroke-width="0.5"/>
<rect x="528.6" y="443.86" width="43.3" height="2.52" fill="none" stroke="#000" stroke-width="0.5"/>
<rect x="471.2" y="443.86" width="100.7" height="2.52" fill="none" stroke="#000" stroke-width="0.55"/>
<rect x="576.2" y="443.86" width="86.23" height="2.52" fill="#440154"/>
<rect x="662.43" y="443.86" width="14.27" height="2.52" fill="#FDE725"/>
<line x1="626.45" y1="443.86" x2="626.45" y2="446.38" stroke="#7f7f7f" stroke-width="1.3"/>
<rect x="576.2" y="443.86" width="86.23" height="2.52" fill="none" stroke="#000" stroke-width="0.5"/>
<rect x="662.43" y="443.86" width="14.27" height="2.52" fill="none" stroke="#000" stroke-width="0.5"/>
<rect x="576.2" y="443.86" width="100.5" height="2.52" fill="none" stroke="#000" stroke-width="0.55"/>
<line x1="153.4" y1="445.12" x2="157.4" y2="445.12" stroke="#444" stroke-width="1"/>
<text x="18.99" y="448.72" textLength="129.95" lengthAdjust="spacing" class="lab">Hissar Alay and Tien Shan (7)</text>
<line x1="157.4" y1="446.38" x2="157.4" y2="449.88" stroke="#444" stroke-width="1"/>
<text transform="translate(157.4,462.7) scale(1.28,1)" text-anchor="middle" class="tick">0</text>
<line x1="182.45" y1="446.38" x2="182.45" y2="449.88" stroke="#444" stroke-width="1"/>
<text transform="translate(182.45,462.7) scale(1.03,1)" text-anchor="middle" class="tick">25</text>
<line x1="207.5" y1="446.38" x2="207.5" y2="449.88" stroke="#444" stroke-width="1"/>
<text transform="translate(207.5,462.7) scale(1.14,1)" text-anchor="middle" class="tick">50</text>
<line x1="232.55" y1="446.38" x2="232.55" y2="449.88" stroke="#444" stroke-width="1"/>
<text transform="translate(232.55,462.7) scale(0.96,1)" text-anchor="middle" class="tick">75</text>
<line x1="257.6" y1="446.38" x2="257.6" y2="449.88" stroke="#444" stroke-width="1"/>
<text transform="translate(257.6,462.7) scale(1.09,1)" text-anchor="middle" class="tick">100</text>
<line x1="287.12" y1="446.38" x2="287.12" y2="449.88" stroke="#444" stroke-width="1"/>
<text transform="translate(287.12,462.7) scale(1.03,1)" text-anchor="middle" class="tick">25</text>
<line x1="312.3" y1="446.38" x2="312.3" y2="449.88" stroke="#444" stroke-width="1"/>
<text transform="translate(312.3,462.7) scale(1.14,1)" text-anchor="middle" class="tick">50</text>
<line x1="337.47" y1="446.38" x2="337.47" y2="449.88" stroke="#444" stroke-width="1"/>
<text transform="translate(337.47,462.7) scale(0.96,1)" text-anchor="middle" class="tick">75</text>
<line x1="367" y1="446.38" x2="367" y2="449.88" stroke="#444" stroke-width="1"/>
<text transform="translate(367,462.7) scale(1.28,1)" text-anchor="middle" class="tick">0</text>
<line x1="392.07" y1="446.38" x2="392.07" y2="449.88" stroke="#444" stroke-width="1"/>
<text transform="translate(392.07,462.7) scale(1.03,1)" text-anchor="middle" class="tick">25</text>
<line x1="417.15" y1="446.38" x2="417.15" y2="449.88" stroke="#444" stroke-width="1"/>
<text transform="translate(417.15,462.7) scale(1.14,1)" text-anchor="middle" class="tick">50</text>
<line x1="442.23" y1="446.38" x2="442.23" y2="449.88" stroke="#444" stroke-width="1"/>
<text transform="translate(442.23,462.7) scale(0.96,1)" text-anchor="middle" class="tick">75</text>
<line x1="467.3" y1="446.38" x2="467.3" y2="449.88" stroke="#444" stroke-width="1"/>
<text transform="translate(467.3,462.7) scale(1.09,1)" text-anchor="middle" class="tick">100</text>
<line x1="496.38" y1="446.38" x2="496.38" y2="449.88" stroke="#444" stroke-width="1"/>
<text transform="translate(496.38,462.7) scale(1.03,1)" text-anchor="middle" class="tick">25</text>
<line x1="521.55" y1="446.38" x2="521.55" y2="449.88" stroke="#444" stroke-width="1"/>
<text transform="translate(521.55,462.7) scale(1.14,1)" text-anchor="middle" class="tick">50</text>
<line x1="546.73" y1="446.38" x2="546.73" y2="449.88" stroke="#444" stroke-width="1"/>
<text transform="translate(546.73,462.7) scale(0.96,1)" text-anchor="middle" class="tick">75</text>
<line x1="576.2" y1="446.38" x2="576.2" y2="449.88" stroke="#444" stroke-width="1"/>
<text transform="translate(576.2,462.7) scale(1.28,1)" text-anchor="middle" class="tick">0</text>
<line x1="601.33" y1="446.38" x2="601.33" y2="449.88" stroke="#444" stroke-width="1"/>
<text transform="translate(601.33,462.7) scale(1.03,1)" text-anchor="middle" class="tick">25</text>
<line x1="626.45" y1="446.38" x2="626.45" y2="449.88" stroke="#444" stroke-width="1"/>
<text transform="translate(626.45,462.7) scale(1.14,1)" text-anchor="middle" class="tick">50</text>
<line x1="651.58" y1="446.38" x2="651.58" y2="449.88" stroke="#444" stroke-width="1"/>
<text transform="translate(651.58,462.7) scale(0.96,1)" text-anchor="middle" class="tick">75</text>
<line x1="676.7" y1="446.38" x2="676.7" y2="449.88" stroke="#444" stroke-width="1"/>
<text transform="translate(676.7,462.7) scale(1.09,1)" text-anchor="middle" class="tick">100</text>
<text x="158.1" y="12.3" class="let">a</text>
<text x="261.6" y="12.3" class="let">b</text>
<text x="366.35" y="12.3" class="let">c</text>
<text x="470.7" y="12.3" class="let">d</text>
<text x="575.35" y="12.3" class="let">e</text>
<text x="172.22" y="495" textLength="71.09" lengthAdjust="spacing" class="ttl">Lake type (%)</text>
<text x="282.12" y="481.6" textLength="50.25" lengthAdjust="spacing" class="ttl">Lake area</text>
<text x="282.44" y="494.4" textLength="59.73" lengthAdjust="spacing" class="ttl">change (%)</text>
<text x="388.67" y="481.6" textLength="56.64" lengthAdjust="spacing" class="ttl">Contact to</text>
<text x="388.83" y="494.4" textLength="56.28" lengthAdjust="spacing" class="ttl">glacier (%)</text>
<text x="490.72" y="481.6" textLength="61.54" lengthAdjust="spacing" class="ttl">Established</text>
<text x="491.05" y="494.4" textLength="60.29" lengthAdjust="spacing" class="ttl">outflow (%)</text>
<text x="600.81" y="481.6" textLength="50.03" lengthAdjust="spacing" class="ttl">Managed</text>
<text x="601.15" y="494.4" textLength="50.91" lengthAdjust="spacing" class="ttl">outlet (%)</text>
<rect x="144.9" y="503.7" width="9.6" height="9.4" fill="#EE7600" stroke="#111" stroke-width="1"/>
<text x="160.48" y="511.9" textLength="95.82" lengthAdjust="spacing" class="leg">Moraine and bedrock</text>
<rect x="144.9" y="519.9" width="9.6" height="9.4" fill="#21908C" stroke="#111" stroke-width="1"/>
<text x="160.48" y="528" textLength="47.06" lengthAdjust="spacing" class="leg">Reservoirs</text>
<rect x="144.9" y="535.8" width="9.6" height="9.4" fill="#000080" stroke="#111" stroke-width="1"/>
<text x="160.87" y="543.8" textLength="109.45" lengthAdjust="spacing" class="leg">Glacier and supraglacial</text>
<rect x="279.8" y="503.7" width="9.6" height="9.4" fill="#FF0000" stroke="#111" stroke-width="1"/>
<text x="295.72" y="511.9" textLength="41.83" lengthAdjust="spacing" class="leg">Decrease</text>
<rect x="279.8" y="519.9" width="9.6" height="9.4" fill="#BEBEBE" stroke="#111" stroke-width="1"/>
<text x="295.63" y="528" textLength="48.96" lengthAdjust="spacing" class="leg">No change</text>
<rect x="279.8" y="535.8" width="9.6" height="9.4" fill="#0000FF" stroke="#111" stroke-width="1"/>
<text x="295.57" y="543.8" textLength="38.52" lengthAdjust="spacing" class="leg">Increase</text>
<rect x="401" y="503.7" width="9.6" height="9.4" fill="#440154" stroke="#111" stroke-width="1"/>
<text x="416.33" y="511.9" class="leg">No</text>
<rect x="401" y="519.9" width="9.6" height="9.4" fill="#FDE725" stroke="#111" stroke-width="1"/>
<text x="416.73" y="528" class="leg">Yes</text>
<rect x="505.6" y="503.7" width="9.6" height="9.4" fill="#440154" stroke="#111" stroke-width="1"/>
<text x="520.83" y="511.9" class="leg">No</text>
<rect x="505.6" y="519.9" width="9.6" height="9.4" fill="#FDE725" stroke="#111" stroke-width="1"/>
<text x="521.23" y="528" class="leg">Yes</text>
<rect x="610.4" y="503.7" width="9.6" height="9.4" fill="#440154" stroke="#111" stroke-width="1"/>
<text x="625.53" y="511.9" class="leg">No</text>
<rect x="610.4" y="519.9" width="9.6" height="9.4" fill="#FDE725" stroke="#111" stroke-width="1"/>
<text x="625.93" y="528" class="leg">Yes</text>
</svg>
</body></html>
